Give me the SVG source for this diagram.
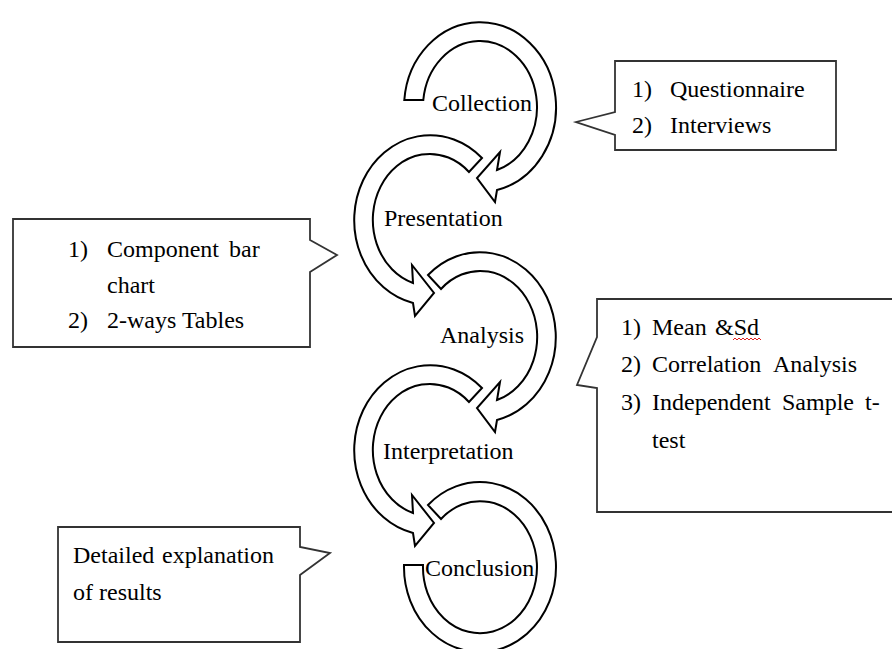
<svg xmlns="http://www.w3.org/2000/svg" width="892" height="649" viewBox="0 0 892 649">
<style>
  .arr { fill: #fff; stroke: #000; stroke-width: 2; stroke-linejoin: miter; }
  .box { fill: #fff; stroke: #333; stroke-width: 1.8; stroke-linejoin: miter; }
  text { font-family: "Liberation Serif", "Times New Roman", serif; font-size: 24px; fill: #000; }
  .squig { fill: none; stroke: #e02020; stroke-width: 1; }
</style>
<rect width="892" height="649" fill="#fff"/>

<g id="cycle">
  <g id="collection">
    <path class="arr" d="M 404.3,100 A 76 85 0 1 1 497,190 L 495,202 L 477,178 L 500,152 L 497,170 A 57 66 0 1 0 423.3,100 Z"/>
    <text x="432" y="111">Collection</text>
  </g>
  <g id="presentation">
    <path class="arr" d="M 482,158 A 76 85 0 1 0 413,303 L 415,316 L 434,293 L 412,265 L 413,283 A 57 66 0 1 1 469,172 Z"/>
    <text x="384" y="226">Presentation</text>
  </g>
  <g id="analysis">
    <path class="arr" d="M 428,275 A 76 85 0 1 1 497,420 L 495,432 L 477,408 L 500,382 L 497,400 A 57 66 0 1 0 441,289 Z"/>
    <text x="440" y="343">Analysis</text>
  </g>
  <g id="interpretation">
    <path class="arr" d="M 482,388 A 76 85 0 1 0 413,533 L 415,546 L 434,523 L 412,495 L 413,513 A 57 66 0 1 1 469,402 Z"/>
    <text x="383" y="459">Interpretation</text>
  </g>
  <g id="conclusion">
    <path class="arr" d="M 428,505 A 76 85 0 1 1 404,565 L 423,565 A 57 66 0 1 0 441,519 Z"/>
    <text x="425" y="576">Conclusion</text>
  </g>
</g>

<g id="callout-collection">
  <path class="box" d="M 615,61 H 836 V 150 H 615 V 135 L 576,122 L 615,112 Z"/>
  <text x="632" y="97">1)</text><text x="670" y="97">Questionnaire</text>
  <text x="632" y="133">2)</text><text x="670" y="133">Interviews</text>
</g>

<g id="callout-presentation">
  <path class="box" d="M 13,219 H 310 V 240 L 337,255 L 310,272 V 347 H 13 Z"/>
  <text x="68" y="257">1)</text><text x="107" y="257">Component</text><text x="229" y="257">bar</text>
  <text x="107" y="293">chart</text>
  <text x="68" y="328">2)</text><text x="107" y="328">2-ways Tables</text>
</g>

<g id="callout-analysis">
  <path class="box" d="M 597,299 H 900 V 512 H 597 V 388 L 577,385 L 597,337 Z"/>
  <text x="621" y="335">1)</text><text x="652" y="335">Mean</text><text x="715" y="335">&amp;Sd</text>
  <path class="squig" d="M 733,340 l 2,-2 l 2,2 l 2,-2 l 2,2 l 2,-2 l 2,2 l 2,-2 l 2,2 l 2,-2 l 2,2 l 2,-2 l 2,2 l 2,-2 l 2,2"/>
  <text x="621" y="372">2)</text><text x="652" y="372">Correlation</text><text x="773" y="372">Analysis</text>
  <text x="621" y="410">3)</text><text x="652" y="410">Independent</text><text x="782" y="410">Sample</text><text x="865" y="410">t-</text>
  <text x="652" y="448">test</text>
</g>

<g id="callout-conclusion">
  <path class="box" d="M 58,527 H 300 V 547 L 330,553 L 300,575 V 642 H 58 Z"/>
  <text x="73" y="563">Detailed</text><text x="162" y="563">explanation</text>
  <text x="73" y="600">of results</text>
</g>

<g id="connectors"></g>
</svg>
